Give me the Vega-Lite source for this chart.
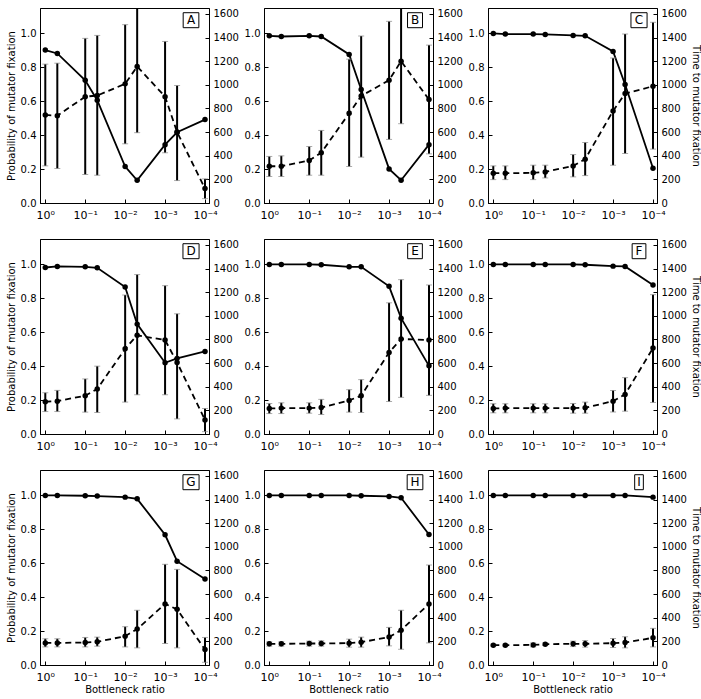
{
  "$schema": "https://vega.github.io/schema/vega-lite/v6.json",
  "padding": {"left": 5, "top": 7, "right": 5, "bottom": 5},
  "bounds": "flush",
  "columns": 3,
  "spacing": {"row": 36, "column": 55},
  "config": {
    "view": {"stroke": "black", "strokeWidth": 1},
    "font": "DejaVu Sans",
    "axis": {"grid": false, "domainColor": "black", "tickColor": "black", "labelColor": "black", "titleColor": "black", "labelFont": "DejaVu Sans", "titleFont": "DejaVu Sans", "labelFontSize": 10, "titleFontSize": 10, "titleFontWeight": "normal", "tickSize": -4, "labelPadding": 8, "titlePadding": 4},
    "axisX": {"labelPadding": 10, "titlePadding": 2}
  },
  "datasets": {
    "pts": [
      {"panel": "A", "r": 1, "p": 0.902, "t": 745, "lo": 314, "hi": 1175},
      {"panel": "A", "r": 0.5, "p": 0.882, "t": 739, "lo": 292, "hi": 1183},
      {"panel": "A", "r": 0.1, "p": 0.724, "t": 900, "lo": 241, "hi": 1393},
      {"panel": "A", "r": 0.05, "p": 0.606, "t": 909, "lo": 235, "hi": 1418},
      {"panel": "A", "r": 0.01, "p": 0.215, "t": 1008, "lo": 501, "hi": 1509},
      {"panel": "A", "r": 0.005, "p": 0.134, "t": 1155, "lo": 595, "hi": 1720},
      {"panel": "A", "r": 0.001, "p": 0.344, "t": 900, "lo": 425, "hi": 1367},
      {"panel": "A", "r": 0.0005, "p": 0.417, "t": 600, "lo": 190, "hi": 994},
      {"panel": "A", "r": 0.0001, "p": 0.492, "t": 122, "lo": 37, "hi": 204},
      {"panel": "B", "r": 1, "p": 0.986, "t": 311, "lo": 224, "hi": 394},
      {"panel": "B", "r": 0.5, "p": 0.982, "t": 311, "lo": 224, "hi": 399},
      {"panel": "B", "r": 0.1, "p": 0.986, "t": 360, "lo": 235, "hi": 478},
      {"panel": "B", "r": 0.05, "p": 0.982, "t": 425, "lo": 235, "hi": 614},
      {"panel": "B", "r": 0.01, "p": 0.876, "t": 759, "lo": 309, "hi": 1217},
      {"panel": "B", "r": 0.005, "p": 0.669, "t": 906, "lo": 388, "hi": 1413},
      {"panel": "B", "r": 0.001, "p": 0.201, "t": 1039, "lo": 538, "hi": 1537},
      {"panel": "B", "r": 0.0005, "p": 0.134, "t": 1200, "lo": 671, "hi": 1720},
      {"panel": "B", "r": 0.0001, "p": 0.344, "t": 875, "lo": 416, "hi": 1336},
      {"panel": "C", "r": 1, "p": 1.0, "t": 252, "lo": 198, "hi": 314},
      {"panel": "C", "r": 0.5, "p": 0.996, "t": 252, "lo": 198, "hi": 314},
      {"panel": "C", "r": 0.1, "p": 0.996, "t": 255, "lo": 198, "hi": 320},
      {"panel": "C", "r": 0.05, "p": 0.994, "t": 263, "lo": 212, "hi": 320},
      {"panel": "C", "r": 0.01, "p": 0.988, "t": 314, "lo": 221, "hi": 410},
      {"panel": "C", "r": 0.005, "p": 0.986, "t": 371, "lo": 232, "hi": 512},
      {"panel": "C", "r": 0.001, "p": 0.894, "t": 779, "lo": 320, "hi": 1226},
      {"panel": "C", "r": 0.0005, "p": 0.699, "t": 926, "lo": 419, "hi": 1430},
      {"panel": "C", "r": 0.0001, "p": 0.205, "t": 988, "lo": 456, "hi": 1529},
      {"panel": "D", "r": 1, "p": 0.982, "t": 273, "lo": 190, "hi": 349},
      {"panel": "D", "r": 0.5, "p": 0.988, "t": 278, "lo": 190, "hi": 369},
      {"panel": "D", "r": 0.1, "p": 0.986, "t": 324, "lo": 185, "hi": 466},
      {"panel": "D", "r": 0.05, "p": 0.98, "t": 381, "lo": 182, "hi": 574},
      {"panel": "D", "r": 0.01, "p": 0.867, "t": 721, "lo": 270, "hi": 1176},
      {"panel": "D", "r": 0.005, "p": 0.648, "t": 835, "lo": 332, "hi": 1349},
      {"panel": "D", "r": 0.001, "p": 0.42, "t": 795, "lo": 332, "hi": 1255},
      {"panel": "D", "r": 0.0005, "p": 0.446, "t": 605, "lo": 128, "hi": 1017},
      {"panel": "D", "r": 0.0001, "p": 0.487, "t": 119, "lo": 20, "hi": 216},
      {"panel": "E", "r": 1, "p": 1.0, "t": 216, "lo": 173, "hi": 258},
      {"panel": "E", "r": 0.5, "p": 1.0, "t": 219, "lo": 173, "hi": 264},
      {"panel": "E", "r": 0.1, "p": 1.0, "t": 219, "lo": 176, "hi": 264},
      {"panel": "E", "r": 0.05, "p": 0.998, "t": 224, "lo": 165, "hi": 293},
      {"panel": "E", "r": 0.01, "p": 0.986, "t": 284, "lo": 185, "hi": 375},
      {"panel": "E", "r": 0.005, "p": 0.986, "t": 324, "lo": 182, "hi": 460},
      {"panel": "E", "r": 0.001, "p": 0.871, "t": 690, "lo": 275, "hi": 1110},
      {"panel": "E", "r": 0.0005, "p": 0.683, "t": 804, "lo": 310, "hi": 1306},
      {"panel": "E", "r": 0.0001, "p": 0.402, "t": 795, "lo": 327, "hi": 1261},
      {"panel": "F", "r": 1, "p": 1.0, "t": 216, "lo": 179, "hi": 256},
      {"panel": "F", "r": 0.5, "p": 1.0, "t": 219, "lo": 179, "hi": 256},
      {"panel": "F", "r": 0.1, "p": 1.0, "t": 219, "lo": 179, "hi": 256},
      {"panel": "F", "r": 0.05, "p": 1.0, "t": 219, "lo": 179, "hi": 256},
      {"panel": "F", "r": 0.01, "p": 1.0, "t": 219, "lo": 176, "hi": 258},
      {"panel": "F", "r": 0.005, "p": 0.998, "t": 222, "lo": 176, "hi": 270},
      {"panel": "F", "r": 0.001, "p": 0.99, "t": 278, "lo": 187, "hi": 369},
      {"panel": "F", "r": 0.0005, "p": 0.988, "t": 335, "lo": 193, "hi": 477},
      {"panel": "F", "r": 0.0001, "p": 0.879, "t": 727, "lo": 267, "hi": 1179},
      {"panel": "G", "r": 1, "p": 1.0, "t": 187, "lo": 153, "hi": 222},
      {"panel": "G", "r": 0.5, "p": 1.0, "t": 187, "lo": 153, "hi": 222},
      {"panel": "G", "r": 0.1, "p": 0.998, "t": 190, "lo": 153, "hi": 233},
      {"panel": "G", "r": 0.05, "p": 0.996, "t": 196, "lo": 159, "hi": 236},
      {"panel": "G", "r": 0.01, "p": 0.99, "t": 244, "lo": 153, "hi": 324},
      {"panel": "G", "r": 0.005, "p": 0.98, "t": 304, "lo": 145, "hi": 463},
      {"panel": "G", "r": 0.001, "p": 0.768, "t": 517, "lo": 182, "hi": 852},
      {"panel": "G", "r": 0.0005, "p": 0.612, "t": 471, "lo": 145, "hi": 809},
      {"panel": "G", "r": 0.0001, "p": 0.507, "t": 131, "lo": 23, "hi": 233},
      {"panel": "H", "r": 1, "p": 1.0, "t": 179, "lo": 159, "hi": 196},
      {"panel": "H", "r": 0.5, "p": 1.0, "t": 179, "lo": 159, "hi": 196},
      {"panel": "H", "r": 0.1, "p": 1.0, "t": 182, "lo": 159, "hi": 202},
      {"panel": "H", "r": 0.05, "p": 1.0, "t": 182, "lo": 159, "hi": 205},
      {"panel": "H", "r": 0.01, "p": 1.0, "t": 185, "lo": 151, "hi": 219},
      {"panel": "H", "r": 0.005, "p": 0.998, "t": 193, "lo": 151, "hi": 236},
      {"panel": "H", "r": 0.001, "p": 0.994, "t": 236, "lo": 162, "hi": 318},
      {"panel": "H", "r": 0.0005, "p": 0.986, "t": 295, "lo": 133, "hi": 463},
      {"panel": "H", "r": 0.0001, "p": 0.77, "t": 517, "lo": 187, "hi": 846},
      {"panel": "I", "r": 1, "p": 1.0, "t": 168, "lo": 160, "hi": 176},
      {"panel": "I", "r": 0.5, "p": 1.0, "t": 168, "lo": 160, "hi": 176},
      {"panel": "I", "r": 0.1, "p": 1.0, "t": 170, "lo": 153, "hi": 187},
      {"panel": "I", "r": 0.05, "p": 1.0, "t": 176, "lo": 165, "hi": 187},
      {"panel": "I", "r": 0.01, "p": 1.0, "t": 179, "lo": 156, "hi": 202},
      {"panel": "I", "r": 0.005, "p": 1.0, "t": 179, "lo": 151, "hi": 207},
      {"panel": "I", "r": 0.001, "p": 1.0, "t": 185, "lo": 148, "hi": 224},
      {"panel": "I", "r": 0.0005, "p": 1.0, "t": 190, "lo": 145, "hi": 239},
      {"panel": "I", "r": 0.0001, "p": 0.99, "t": 230, "lo": 153, "hi": 310}
    ]
  },
  "data": {"name": "pts"},
  "concat": [
    {
      "width": 169, "height": 195,
      "transform": [{"filter": "datum.panel == 'A'"}],
      "layer": [
        {
          "encoding": {
            "x": {"field": "r", "type": "quantitative", "scale": {"type": "log", "domain": [0.0000794, 1.357], "reverse": true, "nice": false}, "axis": {"values": [1, 0.1, 0.01, 0.001, 0.0001], "labelExpr": "datum.value >= 0.5 ? '10⁰' : datum.value >= 0.05 ? '10⁻¹' : datum.value >= 0.005 ? '10⁻²' : datum.value >= 0.0005 ? '10⁻³' : '10⁻⁴'", "labelFontSize": 11, "title": null}},
            "y": {"field": "p", "type": "quantitative", "scale": {"domain": [0, 1.15], "nice": false}, "axis": {"values": [0, 0.2, 0.4, 0.6, 0.8, 1], "format": ".1f", "title": "Probability of mutator fixation"}}
          },
          "layer": [
            {"mark": {"type": "line", "color": "black", "strokeWidth": 1.8}},
            {"mark": {"type": "point", "filled": true, "color": "black", "size": 30, "opacity": 1}},
            {"transform": [{"filter": "datum.r == 1"}], "mark": {"type": "point", "shape": "M-1.12,-1.07H1.12V1.07H-1.12Z", "filled": false, "color": "black", "strokeWidth": 1, "size": 196, "opacity": 1}, "encoding": {"x": {"datum": 0.000224}, "y": {"datum": 1.078}}},
            {"transform": [{"filter": "datum.r == 1"}], "mark": {"type": "text", "font": "DejaVu Sans", "fontSize": 12, "color": "black", "baseline": "middle", "align": "center"}, "encoding": {"x": {"datum": 0.000224}, "y": {"datum": 1.078}, "text": {"field": "panel"}}}
          ]
        },
        {
          "encoding": {
            "x": {"field": "r", "type": "quantitative", "scale": {"type": "log", "domain": [0.0000794, 1.357], "reverse": true, "nice": false}, "axis": {"values": [1, 0.1, 0.01, 0.001, 0.0001], "labelExpr": "datum.value >= 0.5 ? '10⁰' : datum.value >= 0.05 ? '10⁻¹' : datum.value >= 0.005 ? '10⁻²' : datum.value >= 0.0005 ? '10⁻³' : '10⁻⁴'", "labelFontSize": 11, "title": null}},
            "y": {"field": "t", "type": "quantitative", "scale": {"domain": [0, 1650], "nice": false}, "axis": {"orient": "right", "values": [0, 200, 400, 600, 800, 1000, 1200, 1400, 1600], "format": "d", "title": null}}
          },
          "layer": [
            {"mark": {"type": "rule", "color": "black", "strokeWidth": 2, "clip": true}, "encoding": {"y": {"field": "lo", "type": "quantitative"}, "y2": {"field": "hi"}}},
            {"mark": {"type": "tick", "orient": "horizontal", "color": "#888", "thickness": 1, "size": 6, "clip": true}, "encoding": {"y": {"field": "lo", "type": "quantitative"}}},
            {"mark": {"type": "tick", "orient": "horizontal", "color": "#888", "thickness": 1, "size": 6, "clip": true}, "encoding": {"y": {"field": "hi", "type": "quantitative"}}},
            {"mark": {"type": "line", "color": "black", "strokeWidth": 1.8, "strokeDash": [6, 4]}},
            {"mark": {"type": "point", "filled": true, "color": "black", "size": 30, "opacity": 1}}
          ]
        }
      ],
      "resolve": {"scale": {"y": "independent"}}
    },
    {
      "width": 169, "height": 195,
      "transform": [{"filter": "datum.panel == 'B'"}],
      "layer": [
        {
          "encoding": {
            "x": {"field": "r", "type": "quantitative", "scale": {"type": "log", "domain": [0.0000794, 1.357], "reverse": true, "nice": false}, "axis": {"values": [1, 0.1, 0.01, 0.001, 0.0001], "labelExpr": "datum.value >= 0.5 ? '10⁰' : datum.value >= 0.05 ? '10⁻¹' : datum.value >= 0.005 ? '10⁻²' : datum.value >= 0.0005 ? '10⁻³' : '10⁻⁴'", "labelFontSize": 11, "title": null}},
            "y": {"field": "p", "type": "quantitative", "scale": {"domain": [0, 1.15], "nice": false}, "axis": {"values": [0, 0.2, 0.4, 0.6, 0.8, 1], "format": ".1f", "title": null}}
          },
          "layer": [
            {"mark": {"type": "line", "color": "black", "strokeWidth": 1.8}},
            {"mark": {"type": "point", "filled": true, "color": "black", "size": 30, "opacity": 1}},
            {"transform": [{"filter": "datum.r == 1"}], "mark": {"type": "point", "shape": "M-1.07,-1.07H1.07V1.07H-1.07Z", "filled": false, "color": "black", "strokeWidth": 1, "size": 196, "opacity": 1}, "encoding": {"x": {"datum": 0.000224}, "y": {"datum": 1.078}}},
            {"transform": [{"filter": "datum.r == 1"}], "mark": {"type": "text", "font": "DejaVu Sans", "fontSize": 12, "color": "black", "baseline": "middle", "align": "center"}, "encoding": {"x": {"datum": 0.000224}, "y": {"datum": 1.078}, "text": {"field": "panel"}}}
          ]
        },
        {
          "encoding": {
            "x": {"field": "r", "type": "quantitative", "scale": {"type": "log", "domain": [0.0000794, 1.357], "reverse": true, "nice": false}, "axis": {"values": [1, 0.1, 0.01, 0.001, 0.0001], "labelExpr": "datum.value >= 0.5 ? '10⁰' : datum.value >= 0.05 ? '10⁻¹' : datum.value >= 0.005 ? '10⁻²' : datum.value >= 0.0005 ? '10⁻³' : '10⁻⁴'", "labelFontSize": 11, "title": null}},
            "y": {"field": "t", "type": "quantitative", "scale": {"domain": [0, 1650], "nice": false}, "axis": {"orient": "right", "values": [0, 200, 400, 600, 800, 1000, 1200, 1400, 1600], "format": "d", "title": null}}
          },
          "layer": [
            {"mark": {"type": "rule", "color": "black", "strokeWidth": 2, "clip": true}, "encoding": {"y": {"field": "lo", "type": "quantitative"}, "y2": {"field": "hi"}}},
            {"mark": {"type": "tick", "orient": "horizontal", "color": "#888", "thickness": 1, "size": 6, "clip": true}, "encoding": {"y": {"field": "lo", "type": "quantitative"}}},
            {"mark": {"type": "tick", "orient": "horizontal", "color": "#888", "thickness": 1, "size": 6, "clip": true}, "encoding": {"y": {"field": "hi", "type": "quantitative"}}},
            {"mark": {"type": "line", "color": "black", "strokeWidth": 1.8, "strokeDash": [6, 4]}},
            {"mark": {"type": "point", "filled": true, "color": "black", "size": 30, "opacity": 1}}
          ]
        }
      ],
      "resolve": {"scale": {"y": "independent"}}
    },
    {
      "width": 169, "height": 195,
      "transform": [{"filter": "datum.panel == 'C'"}],
      "layer": [
        {
          "encoding": {
            "x": {"field": "r", "type": "quantitative", "scale": {"type": "log", "domain": [0.0000794, 1.357], "reverse": true, "nice": false}, "axis": {"values": [1, 0.1, 0.01, 0.001, 0.0001], "labelExpr": "datum.value >= 0.5 ? '10⁰' : datum.value >= 0.05 ? '10⁻¹' : datum.value >= 0.005 ? '10⁻²' : datum.value >= 0.0005 ? '10⁻³' : '10⁻⁴'", "labelFontSize": 11, "title": null}},
            "y": {"field": "p", "type": "quantitative", "scale": {"domain": [0, 1.15], "nice": false}, "axis": {"values": [0, 0.2, 0.4, 0.6, 0.8, 1], "format": ".1f", "title": null}}
          },
          "layer": [
            {"mark": {"type": "line", "color": "black", "strokeWidth": 1.8}},
            {"mark": {"type": "point", "filled": true, "color": "black", "size": 30, "opacity": 1}},
            {"transform": [{"filter": "datum.r == 1"}], "mark": {"type": "point", "shape": "M-1.15,-1.07H1.15V1.07H-1.15Z", "filled": false, "color": "black", "strokeWidth": 1, "size": 196, "opacity": 1}, "encoding": {"x": {"datum": 0.000224}, "y": {"datum": 1.078}}},
            {"transform": [{"filter": "datum.r == 1"}], "mark": {"type": "text", "font": "DejaVu Sans", "fontSize": 12, "color": "black", "baseline": "middle", "align": "center"}, "encoding": {"x": {"datum": 0.000224}, "y": {"datum": 1.078}, "text": {"field": "panel"}}}
          ]
        },
        {
          "encoding": {
            "x": {"field": "r", "type": "quantitative", "scale": {"type": "log", "domain": [0.0000794, 1.357], "reverse": true, "nice": false}, "axis": {"values": [1, 0.1, 0.01, 0.001, 0.0001], "labelExpr": "datum.value >= 0.5 ? '10⁰' : datum.value >= 0.05 ? '10⁻¹' : datum.value >= 0.005 ? '10⁻²' : datum.value >= 0.0005 ? '10⁻³' : '10⁻⁴'", "labelFontSize": 11, "title": null}},
            "y": {"field": "t", "type": "quantitative", "scale": {"domain": [0, 1650], "nice": false}, "axis": {"orient": "right", "values": [0, 200, 400, 600, 800, 1000, 1200, 1400, 1600], "format": "d", "title": "Time to mutator fixation"}}
          },
          "layer": [
            {"mark": {"type": "rule", "color": "black", "strokeWidth": 2, "clip": true}, "encoding": {"y": {"field": "lo", "type": "quantitative"}, "y2": {"field": "hi"}}},
            {"mark": {"type": "tick", "orient": "horizontal", "color": "#888", "thickness": 1, "size": 6, "clip": true}, "encoding": {"y": {"field": "lo", "type": "quantitative"}}},
            {"mark": {"type": "tick", "orient": "horizontal", "color": "#888", "thickness": 1, "size": 6, "clip": true}, "encoding": {"y": {"field": "hi", "type": "quantitative"}}},
            {"mark": {"type": "line", "color": "black", "strokeWidth": 1.8, "strokeDash": [6, 4]}},
            {"mark": {"type": "point", "filled": true, "color": "black", "size": 30, "opacity": 1}}
          ]
        }
      ],
      "resolve": {"scale": {"y": "independent"}}
    },
    {
      "width": 169, "height": 195,
      "transform": [{"filter": "datum.panel == 'D'"}],
      "layer": [
        {
          "encoding": {
            "x": {"field": "r", "type": "quantitative", "scale": {"type": "log", "domain": [0.0000794, 1.357], "reverse": true, "nice": false}, "axis": {"values": [1, 0.1, 0.01, 0.001, 0.0001], "labelExpr": "datum.value >= 0.5 ? '10⁰' : datum.value >= 0.05 ? '10⁻¹' : datum.value >= 0.005 ? '10⁻²' : datum.value >= 0.0005 ? '10⁻³' : '10⁻⁴'", "labelFontSize": 11, "title": null}},
            "y": {"field": "p", "type": "quantitative", "scale": {"domain": [0, 1.15], "nice": false}, "axis": {"values": [0, 0.2, 0.4, 0.6, 0.8, 1], "format": ".1f", "title": "Probability of mutator fixation"}}
          },
          "layer": [
            {"mark": {"type": "line", "color": "black", "strokeWidth": 1.8}},
            {"mark": {"type": "point", "filled": true, "color": "black", "size": 30, "opacity": 1}},
            {"transform": [{"filter": "datum.r == 1"}], "mark": {"type": "point", "shape": "M-1.15,-1.07H1.15V1.07H-1.15Z", "filled": false, "color": "black", "strokeWidth": 1, "size": 196, "opacity": 1}, "encoding": {"x": {"datum": 0.000224}, "y": {"datum": 1.078}}},
            {"transform": [{"filter": "datum.r == 1"}], "mark": {"type": "text", "font": "DejaVu Sans", "fontSize": 12, "color": "black", "baseline": "middle", "align": "center"}, "encoding": {"x": {"datum": 0.000224}, "y": {"datum": 1.078}, "text": {"field": "panel"}}}
          ]
        },
        {
          "encoding": {
            "x": {"field": "r", "type": "quantitative", "scale": {"type": "log", "domain": [0.0000794, 1.357], "reverse": true, "nice": false}, "axis": {"values": [1, 0.1, 0.01, 0.001, 0.0001], "labelExpr": "datum.value >= 0.5 ? '10⁰' : datum.value >= 0.05 ? '10⁻¹' : datum.value >= 0.005 ? '10⁻²' : datum.value >= 0.0005 ? '10⁻³' : '10⁻⁴'", "labelFontSize": 11, "title": null}},
            "y": {"field": "t", "type": "quantitative", "scale": {"domain": [0, 1650], "nice": false}, "axis": {"orient": "right", "values": [0, 200, 400, 600, 800, 1000, 1200, 1400, 1600], "format": "d", "title": null}}
          },
          "layer": [
            {"mark": {"type": "rule", "color": "black", "strokeWidth": 2, "clip": true}, "encoding": {"y": {"field": "lo", "type": "quantitative"}, "y2": {"field": "hi"}}},
            {"mark": {"type": "tick", "orient": "horizontal", "color": "#888", "thickness": 1, "size": 6, "clip": true}, "encoding": {"y": {"field": "lo", "type": "quantitative"}}},
            {"mark": {"type": "tick", "orient": "horizontal", "color": "#888", "thickness": 1, "size": 6, "clip": true}, "encoding": {"y": {"field": "hi", "type": "quantitative"}}},
            {"mark": {"type": "line", "color": "black", "strokeWidth": 1.8, "strokeDash": [6, 4]}},
            {"mark": {"type": "point", "filled": true, "color": "black", "size": 30, "opacity": 1}}
          ]
        }
      ],
      "resolve": {"scale": {"y": "independent"}}
    },
    {
      "width": 169, "height": 195,
      "transform": [{"filter": "datum.panel == 'E'"}],
      "layer": [
        {
          "encoding": {
            "x": {"field": "r", "type": "quantitative", "scale": {"type": "log", "domain": [0.0000794, 1.357], "reverse": true, "nice": false}, "axis": {"values": [1, 0.1, 0.01, 0.001, 0.0001], "labelExpr": "datum.value >= 0.5 ? '10⁰' : datum.value >= 0.05 ? '10⁻¹' : datum.value >= 0.005 ? '10⁻²' : datum.value >= 0.0005 ? '10⁻³' : '10⁻⁴'", "labelFontSize": 11, "title": null}},
            "y": {"field": "p", "type": "quantitative", "scale": {"domain": [0, 1.15], "nice": false}, "axis": {"values": [0, 0.2, 0.4, 0.6, 0.8, 1], "format": ".1f", "title": null}}
          },
          "layer": [
            {"mark": {"type": "line", "color": "black", "strokeWidth": 1.8}},
            {"mark": {"type": "point", "filled": true, "color": "black", "size": 30, "opacity": 1}},
            {"transform": [{"filter": "datum.r == 1"}], "mark": {"type": "point", "shape": "M-1.05,-1.07H1.05V1.07H-1.05Z", "filled": false, "color": "black", "strokeWidth": 1, "size": 196, "opacity": 1}, "encoding": {"x": {"datum": 0.000224}, "y": {"datum": 1.078}}},
            {"transform": [{"filter": "datum.r == 1"}], "mark": {"type": "text", "font": "DejaVu Sans", "fontSize": 12, "color": "black", "baseline": "middle", "align": "center"}, "encoding": {"x": {"datum": 0.000224}, "y": {"datum": 1.078}, "text": {"field": "panel"}}}
          ]
        },
        {
          "encoding": {
            "x": {"field": "r", "type": "quantitative", "scale": {"type": "log", "domain": [0.0000794, 1.357], "reverse": true, "nice": false}, "axis": {"values": [1, 0.1, 0.01, 0.001, 0.0001], "labelExpr": "datum.value >= 0.5 ? '10⁰' : datum.value >= 0.05 ? '10⁻¹' : datum.value >= 0.005 ? '10⁻²' : datum.value >= 0.0005 ? '10⁻³' : '10⁻⁴'", "labelFontSize": 11, "title": null}},
            "y": {"field": "t", "type": "quantitative", "scale": {"domain": [0, 1650], "nice": false}, "axis": {"orient": "right", "values": [0, 200, 400, 600, 800, 1000, 1200, 1400, 1600], "format": "d", "title": null}}
          },
          "layer": [
            {"mark": {"type": "rule", "color": "black", "strokeWidth": 2, "clip": true}, "encoding": {"y": {"field": "lo", "type": "quantitative"}, "y2": {"field": "hi"}}},
            {"mark": {"type": "tick", "orient": "horizontal", "color": "#888", "thickness": 1, "size": 6, "clip": true}, "encoding": {"y": {"field": "lo", "type": "quantitative"}}},
            {"mark": {"type": "tick", "orient": "horizontal", "color": "#888", "thickness": 1, "size": 6, "clip": true}, "encoding": {"y": {"field": "hi", "type": "quantitative"}}},
            {"mark": {"type": "line", "color": "black", "strokeWidth": 1.8, "strokeDash": [6, 4]}},
            {"mark": {"type": "point", "filled": true, "color": "black", "size": 30, "opacity": 1}}
          ]
        }
      ],
      "resolve": {"scale": {"y": "independent"}}
    },
    {
      "width": 169, "height": 195,
      "transform": [{"filter": "datum.panel == 'F'"}],
      "layer": [
        {
          "encoding": {
            "x": {"field": "r", "type": "quantitative", "scale": {"type": "log", "domain": [0.0000794, 1.357], "reverse": true, "nice": false}, "axis": {"values": [1, 0.1, 0.01, 0.001, 0.0001], "labelExpr": "datum.value >= 0.5 ? '10⁰' : datum.value >= 0.05 ? '10⁻¹' : datum.value >= 0.005 ? '10⁻²' : datum.value >= 0.0005 ? '10⁻³' : '10⁻⁴'", "labelFontSize": 11, "title": null}},
            "y": {"field": "p", "type": "quantitative", "scale": {"domain": [0, 1.15], "nice": false}, "axis": {"values": [0, 0.2, 0.4, 0.6, 0.8, 1], "format": ".1f", "title": null}}
          },
          "layer": [
            {"mark": {"type": "line", "color": "black", "strokeWidth": 1.8}},
            {"mark": {"type": "point", "filled": true, "color": "black", "size": 30, "opacity": 1}},
            {"transform": [{"filter": "datum.r == 1"}], "mark": {"type": "point", "shape": "M-0.98,-1.07H0.98V1.07H-0.98Z", "filled": false, "color": "black", "strokeWidth": 1, "size": 196, "opacity": 1}, "encoding": {"x": {"datum": 0.000224}, "y": {"datum": 1.078}}},
            {"transform": [{"filter": "datum.r == 1"}], "mark": {"type": "text", "font": "DejaVu Sans", "fontSize": 12, "color": "black", "baseline": "middle", "align": "center"}, "encoding": {"x": {"datum": 0.000224}, "y": {"datum": 1.078}, "text": {"field": "panel"}}}
          ]
        },
        {
          "encoding": {
            "x": {"field": "r", "type": "quantitative", "scale": {"type": "log", "domain": [0.0000794, 1.357], "reverse": true, "nice": false}, "axis": {"values": [1, 0.1, 0.01, 0.001, 0.0001], "labelExpr": "datum.value >= 0.5 ? '10⁰' : datum.value >= 0.05 ? '10⁻¹' : datum.value >= 0.005 ? '10⁻²' : datum.value >= 0.0005 ? '10⁻³' : '10⁻⁴'", "labelFontSize": 11, "title": null}},
            "y": {"field": "t", "type": "quantitative", "scale": {"domain": [0, 1650], "nice": false}, "axis": {"orient": "right", "values": [0, 200, 400, 600, 800, 1000, 1200, 1400, 1600], "format": "d", "title": "Time to mutator fixation"}}
          },
          "layer": [
            {"mark": {"type": "rule", "color": "black", "strokeWidth": 2, "clip": true}, "encoding": {"y": {"field": "lo", "type": "quantitative"}, "y2": {"field": "hi"}}},
            {"mark": {"type": "tick", "orient": "horizontal", "color": "#888", "thickness": 1, "size": 6, "clip": true}, "encoding": {"y": {"field": "lo", "type": "quantitative"}}},
            {"mark": {"type": "tick", "orient": "horizontal", "color": "#888", "thickness": 1, "size": 6, "clip": true}, "encoding": {"y": {"field": "hi", "type": "quantitative"}}},
            {"mark": {"type": "line", "color": "black", "strokeWidth": 1.8, "strokeDash": [6, 4]}},
            {"mark": {"type": "point", "filled": true, "color": "black", "size": 30, "opacity": 1}}
          ]
        }
      ],
      "resolve": {"scale": {"y": "independent"}}
    },
    {
      "width": 169, "height": 195,
      "transform": [{"filter": "datum.panel == 'G'"}],
      "layer": [
        {
          "encoding": {
            "x": {"field": "r", "type": "quantitative", "scale": {"type": "log", "domain": [0.0000794, 1.357], "reverse": true, "nice": false}, "axis": {"values": [1, 0.1, 0.01, 0.001, 0.0001], "labelExpr": "datum.value >= 0.5 ? '10⁰' : datum.value >= 0.05 ? '10⁻¹' : datum.value >= 0.005 ? '10⁻²' : datum.value >= 0.0005 ? '10⁻³' : '10⁻⁴'", "labelFontSize": 11, "title": "Bottleneck ratio"}},
            "y": {"field": "p", "type": "quantitative", "scale": {"domain": [0, 1.15], "nice": false}, "axis": {"values": [0, 0.2, 0.4, 0.6, 0.8, 1], "format": ".1f", "title": "Probability of mutator fixation"}}
          },
          "layer": [
            {"mark": {"type": "line", "color": "black", "strokeWidth": 1.8}},
            {"mark": {"type": "point", "filled": true, "color": "black", "size": 30, "opacity": 1}},
            {"transform": [{"filter": "datum.r == 1"}], "mark": {"type": "point", "shape": "M-1.15,-1.07H1.15V1.07H-1.15Z", "filled": false, "color": "black", "strokeWidth": 1, "size": 196, "opacity": 1}, "encoding": {"x": {"datum": 0.000224}, "y": {"datum": 1.078}}},
            {"transform": [{"filter": "datum.r == 1"}], "mark": {"type": "text", "font": "DejaVu Sans", "fontSize": 12, "color": "black", "baseline": "middle", "align": "center"}, "encoding": {"x": {"datum": 0.000224}, "y": {"datum": 1.078}, "text": {"field": "panel"}}}
          ]
        },
        {
          "encoding": {
            "x": {"field": "r", "type": "quantitative", "scale": {"type": "log", "domain": [0.0000794, 1.357], "reverse": true, "nice": false}, "axis": {"values": [1, 0.1, 0.01, 0.001, 0.0001], "labelExpr": "datum.value >= 0.5 ? '10⁰' : datum.value >= 0.05 ? '10⁻¹' : datum.value >= 0.005 ? '10⁻²' : datum.value >= 0.0005 ? '10⁻³' : '10⁻⁴'", "labelFontSize": 11, "title": "Bottleneck ratio"}},
            "y": {"field": "t", "type": "quantitative", "scale": {"domain": [0, 1650], "nice": false}, "axis": {"orient": "right", "values": [0, 200, 400, 600, 800, 1000, 1200, 1400, 1600], "format": "d", "title": null}}
          },
          "layer": [
            {"mark": {"type": "rule", "color": "black", "strokeWidth": 2, "clip": true}, "encoding": {"y": {"field": "lo", "type": "quantitative"}, "y2": {"field": "hi"}}},
            {"mark": {"type": "tick", "orient": "horizontal", "color": "#888", "thickness": 1, "size": 6, "clip": true}, "encoding": {"y": {"field": "lo", "type": "quantitative"}}},
            {"mark": {"type": "tick", "orient": "horizontal", "color": "#888", "thickness": 1, "size": 6, "clip": true}, "encoding": {"y": {"field": "hi", "type": "quantitative"}}},
            {"mark": {"type": "line", "color": "black", "strokeWidth": 1.8, "strokeDash": [6, 4]}},
            {"mark": {"type": "point", "filled": true, "color": "black", "size": 30, "opacity": 1}}
          ]
        }
      ],
      "resolve": {"scale": {"y": "independent"}}
    },
    {
      "width": 169, "height": 195,
      "transform": [{"filter": "datum.panel == 'H'"}],
      "layer": [
        {
          "encoding": {
            "x": {"field": "r", "type": "quantitative", "scale": {"type": "log", "domain": [0.0000794, 1.357], "reverse": true, "nice": false}, "axis": {"values": [1, 0.1, 0.01, 0.001, 0.0001], "labelExpr": "datum.value >= 0.5 ? '10⁰' : datum.value >= 0.05 ? '10⁻¹' : datum.value >= 0.005 ? '10⁻²' : datum.value >= 0.0005 ? '10⁻³' : '10⁻⁴'", "labelFontSize": 11, "title": "Bottleneck ratio"}},
            "y": {"field": "p", "type": "quantitative", "scale": {"domain": [0, 1.15], "nice": false}, "axis": {"values": [0, 0.2, 0.4, 0.6, 0.8, 1], "format": ".1f", "title": null}}
          },
          "layer": [
            {"mark": {"type": "line", "color": "black", "strokeWidth": 1.8}},
            {"mark": {"type": "point", "filled": true, "color": "black", "size": 30, "opacity": 1}},
            {"transform": [{"filter": "datum.r == 1"}], "mark": {"type": "point", "shape": "M-1.12,-1.07H1.12V1.07H-1.12Z", "filled": false, "color": "black", "strokeWidth": 1, "size": 196, "opacity": 1}, "encoding": {"x": {"datum": 0.000224}, "y": {"datum": 1.078}}},
            {"transform": [{"filter": "datum.r == 1"}], "mark": {"type": "text", "font": "DejaVu Sans", "fontSize": 12, "color": "black", "baseline": "middle", "align": "center"}, "encoding": {"x": {"datum": 0.000224}, "y": {"datum": 1.078}, "text": {"field": "panel"}}}
          ]
        },
        {
          "encoding": {
            "x": {"field": "r", "type": "quantitative", "scale": {"type": "log", "domain": [0.0000794, 1.357], "reverse": true, "nice": false}, "axis": {"values": [1, 0.1, 0.01, 0.001, 0.0001], "labelExpr": "datum.value >= 0.5 ? '10⁰' : datum.value >= 0.05 ? '10⁻¹' : datum.value >= 0.005 ? '10⁻²' : datum.value >= 0.0005 ? '10⁻³' : '10⁻⁴'", "labelFontSize": 11, "title": "Bottleneck ratio"}},
            "y": {"field": "t", "type": "quantitative", "scale": {"domain": [0, 1650], "nice": false}, "axis": {"orient": "right", "values": [0, 200, 400, 600, 800, 1000, 1200, 1400, 1600], "format": "d", "title": null}}
          },
          "layer": [
            {"mark": {"type": "rule", "color": "black", "strokeWidth": 2, "clip": true}, "encoding": {"y": {"field": "lo", "type": "quantitative"}, "y2": {"field": "hi"}}},
            {"mark": {"type": "tick", "orient": "horizontal", "color": "#888", "thickness": 1, "size": 6, "clip": true}, "encoding": {"y": {"field": "lo", "type": "quantitative"}}},
            {"mark": {"type": "tick", "orient": "horizontal", "color": "#888", "thickness": 1, "size": 6, "clip": true}, "encoding": {"y": {"field": "hi", "type": "quantitative"}}},
            {"mark": {"type": "line", "color": "black", "strokeWidth": 1.8, "strokeDash": [6, 4]}},
            {"mark": {"type": "point", "filled": true, "color": "black", "size": 30, "opacity": 1}}
          ]
        }
      ],
      "resolve": {"scale": {"y": "independent"}}
    },
    {
      "width": 169, "height": 195,
      "transform": [{"filter": "datum.panel == 'I'"}],
      "layer": [
        {
          "encoding": {
            "x": {"field": "r", "type": "quantitative", "scale": {"type": "log", "domain": [0.0000794, 1.357], "reverse": true, "nice": false}, "axis": {"values": [1, 0.1, 0.01, 0.001, 0.0001], "labelExpr": "datum.value >= 0.5 ? '10⁰' : datum.value >= 0.05 ? '10⁻¹' : datum.value >= 0.005 ? '10⁻²' : datum.value >= 0.0005 ? '10⁻³' : '10⁻⁴'", "labelFontSize": 11, "title": "Bottleneck ratio"}},
            "y": {"field": "p", "type": "quantitative", "scale": {"domain": [0, 1.15], "nice": false}, "axis": {"values": [0, 0.2, 0.4, 0.6, 0.8, 1], "format": ".1f", "title": null}}
          },
          "layer": [
            {"mark": {"type": "line", "color": "black", "strokeWidth": 1.8}},
            {"mark": {"type": "point", "filled": true, "color": "black", "size": 30, "opacity": 1}},
            {"transform": [{"filter": "datum.r == 1"}], "mark": {"type": "point", "shape": "M-0.62,-1.07H0.62V1.07H-0.62Z", "filled": false, "color": "black", "strokeWidth": 1, "size": 196, "opacity": 1}, "encoding": {"x": {"datum": 0.000224}, "y": {"datum": 1.078}}},
            {"transform": [{"filter": "datum.r == 1"}], "mark": {"type": "text", "font": "DejaVu Sans", "fontSize": 12, "color": "black", "baseline": "middle", "align": "center"}, "encoding": {"x": {"datum": 0.000224}, "y": {"datum": 1.078}, "text": {"field": "panel"}}}
          ]
        },
        {
          "encoding": {
            "x": {"field": "r", "type": "quantitative", "scale": {"type": "log", "domain": [0.0000794, 1.357], "reverse": true, "nice": false}, "axis": {"values": [1, 0.1, 0.01, 0.001, 0.0001], "labelExpr": "datum.value >= 0.5 ? '10⁰' : datum.value >= 0.05 ? '10⁻¹' : datum.value >= 0.005 ? '10⁻²' : datum.value >= 0.0005 ? '10⁻³' : '10⁻⁴'", "labelFontSize": 11, "title": "Bottleneck ratio"}},
            "y": {"field": "t", "type": "quantitative", "scale": {"domain": [0, 1650], "nice": false}, "axis": {"orient": "right", "values": [0, 200, 400, 600, 800, 1000, 1200, 1400, 1600], "format": "d", "title": "Time to mutator fixation"}}
          },
          "layer": [
            {"mark": {"type": "rule", "color": "black", "strokeWidth": 2, "clip": true}, "encoding": {"y": {"field": "lo", "type": "quantitative"}, "y2": {"field": "hi"}}},
            {"mark": {"type": "tick", "orient": "horizontal", "color": "#888", "thickness": 1, "size": 6, "clip": true}, "encoding": {"y": {"field": "lo", "type": "quantitative"}}},
            {"mark": {"type": "tick", "orient": "horizontal", "color": "#888", "thickness": 1, "size": 6, "clip": true}, "encoding": {"y": {"field": "hi", "type": "quantitative"}}},
            {"mark": {"type": "line", "color": "black", "strokeWidth": 1.8, "strokeDash": [6, 4]}},
            {"mark": {"type": "point", "filled": true, "color": "black", "size": 30, "opacity": 1}}
          ]
        }
      ],
      "resolve": {"scale": {"y": "independent"}}
    }
  ]
}
